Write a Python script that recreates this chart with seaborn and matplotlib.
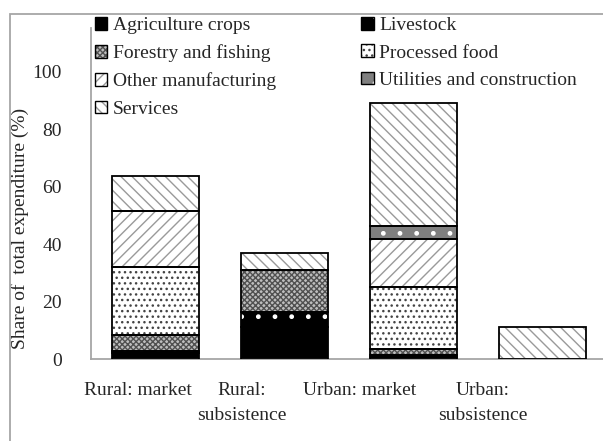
import matplotlib
matplotlib.use("Agg")
import matplotlib.pyplot as plt
from matplotlib.patches import Patch, Rectangle
from matplotlib.legend_handler import HandlerTuple
import seaborn as sns
import pandas as pd

categories = ["Rural: market", "Rural:\nsubsistence", "Urban: market", "Urban:\nsubsistence"]
series_names = ["Agriculture crops", "Livestock", "Forestry and fishing", "Processed food",
                "Other manufacturing", "Utilities and construction", "Services"]
agriculture_crops = [2.0, 11.0, 0.8, 0.0]
livestock = [0.8, 5.5, 0.6, 0.0]
forestry_fishing = [5.6, 14.5, 2.1, 0.0]
processed_food = [23.5, 0.0, 21.4, 0.0]
other_manufacturing = [19.5, 0.0, 17.0, 0.0]
utilities_construction = [0.0, 0.0, 4.5, 0.0]
services = [12.2, 6.0, 42.8, 11.3]
yticks = [0, 20, 40, 60, 80, 100]

series_values = [agriculture_crops, livestock, forestry_fishing, processed_food,
                 other_manufacturing, utilities_construction, services]

# face colour, hatch pattern, hatch colour
styles = {
    "Agriculture crops": ("black", None, "black"),
    "Livestock": ("black", ".", "white"),
    "Forestry and fishing": ("#bdbdbd", "xxxxxx", "#505050"),
    "Processed food": ("white", "...", "#444444"),
    "Other manufacturing": ("white", "///", "#9a9a9a"),
    "Utilities and construction": ("#7f7f7f", ".", "white"),
    "Services": ("white", "\\\\\\", "#9a9a9a"),
}

FS = 14
sns.set_style("white")
plt.rcParams["font.family"] = ["Liberation Serif", "DejaVu Serif"]
plt.rcParams["hatch.linewidth"] = 1.0

fig = plt.figure(figsize=(6.03, 4.41), dpi=100)
ax = fig.add_axes([91 / 603, (441 - 359) / 441, 516 / 603, (359 - 28) / 441])

bottom = [0.0] * len(categories)
for name, vals in zip(series_names, series_values):
    face, hatch, hcol = styles[name]
    df = pd.DataFrame({"cat": categories, "val": vals})
    n_before = len(ax.patches)
    sns.barplot(data=df, x="cat", y="val", bottom=bottom, color=face, saturation=1,
                width=0.68, ax=ax, edgecolor=hcol, linewidth=0, hatch=hatch, zorder=2)
    new = ax.patches[n_before:]
    for p in new:
        if p.get_height() > 0:
            ax.add_patch(Rectangle(p.get_xy(), p.get_width(), p.get_height(), fill=False,
                                   edgecolor="black", linewidth=1.3, zorder=3))
    bottom = [b + v for b, v in zip(bottom, vals)]

ax.set_ylim(0, (359 - 28) / 2.872)
ax.set_xlim(-0.5, 3.5)
ax.set_yticks(yticks)
ax.set_yticklabels([str(t) for t in yticks])
ax.tick_params(axis="y", length=0, pad=21, labelsize=FS)
ax.set_xticks(range(len(categories)))
ax.set_xticklabels([])
ax.tick_params(axis="x", length=0)
ax.set_xlabel("")

# category labels (placed as in the reference, slightly left of bar centres)
label_shift_px = [-18, -43, -54, -60]
for i, (cat, dx) in enumerate(zip(categories, label_shift_px)):
    ax.annotate(cat, xy=(i, 0), xycoords=("data", "axes fraction"),
                xytext=(dx, -23), textcoords="offset pixels",
                ha="center", va="top", fontsize=FS, linespacing=1.6)

ax.set_ylabel("Share of  total expenditure (%)", fontsize=FS)
ax.yaxis.set_label_coords((29 - 91) / 516, (359 - 228) / 331)

for s in ["top", "right"]:
    ax.spines[s].set_visible(False)
for s in ["left", "bottom"]:
    ax.spines[s].set_color("#a6a6a6")
    ax.spines[s].set_linewidth(1.3)

# legend (column-major order to reproduce row layout)
order = ["Agriculture crops", "Forestry and fishing", "Other manufacturing", "Services",
         "Livestock", "Processed food", "Utilities and construction"]
handles = []
for name in order:
    face, hatch, hcol = styles[name]
    fillp = Patch(facecolor=face, hatch=hatch, edgecolor=hcol, linewidth=0)
    edgep = Patch(facecolor="none", edgecolor="black", linewidth=1.0)
    handles.append((fillp, edgep))
leg = ax.legend(handles=handles, labels=order, ncol=2, loc="upper left",
                bbox_to_anchor=(0.0, 1.045), frameon=False, fontsize=FS,
                handler_map={tuple: HandlerTuple(ndivide=1, pad=0)},
                handlelength=0.62, handleheight=0.62, handletextpad=0.3,
                columnspacing=4.4, labelspacing=0.53, borderpad=0.2, borderaxespad=0)
leg.set_zorder(5)

fig.patches.append(Rectangle((9.5 / 603, -0.05), 1.1, 0.05 + (441 - 14) / 441,
                             transform=fig.transFigure, fill=False,
                             edgecolor="#a6a6a6", linewidth=1.3, zorder=0))

fig.savefig("out.png", dpi=100)
